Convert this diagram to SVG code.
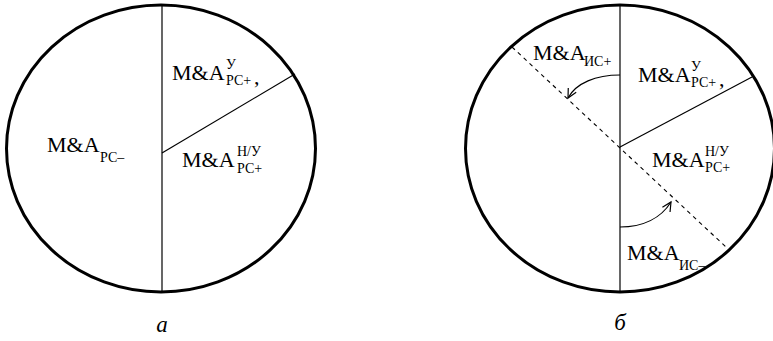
<svg xmlns="http://www.w3.org/2000/svg" width="773" height="341" viewBox="0 0 773 341">
<defs>
<style>
.rim{fill:none;stroke:#000;stroke-width:3}
.ln{fill:none;stroke:#000;stroke-width:1.2}
.dash{fill:none;stroke:#000;stroke-width:1.1;stroke-dasharray:4 4}
.t{font-family:"Liberation Serif","Times New Roman",serif;font-size:22px;fill:#000}
.s{font-size:14px}
.cap{font-family:"Liberation Serif","Times New Roman",serif;font-size:23px;font-style:italic;fill:#000}
</style>
<marker id="ah" markerWidth="12" markerHeight="12" refX="0" refY="0" viewBox="-10 -6 12 12" orient="auto" markerUnits="userSpaceOnUse">
<path d="M-9,-4.5 L0,0 L-9,4.5" fill="none" stroke="#000" stroke-width="1.2"/>
</marker>
</defs>
<rect width="773" height="341" fill="#fff"/>
<g id="diagram-a">
<ellipse class="rim" cx="161" cy="148.5" rx="154.5" ry="143.5"/>
<line class="ln" x1="162" y1="5" x2="162" y2="292"/>
<line class="ln" x1="162" y1="153" x2="295" y2="74"/>
</g>
<g id="label-a-rc-minus"><text class="t" x="47" y="152">M&amp;A<tspan class="s" x="100" y="162">РС–</tspan></text></g>
<g id="label-a-rc-plus-u"><text class="t" x="172" y="80">M&amp;A<tspan class="s" x="226" y="69">У</tspan><tspan class="s" x="226" y="85">РС+</tspan><tspan x="254" y="84">,</tspan></text></g>
<g id="label-a-rc-plus-nu"><text class="t" x="182" y="167">M&amp;A<tspan class="s" x="237" y="156">Н/У</tspan><tspan class="s" x="237" y="173">РС+</tspan></text></g>
<g id="caption-a"><text class="cap" x="162" y="332" text-anchor="middle">а</text></g>
<g id="diagram-b">
<ellipse class="rim" cx="620" cy="148.5" rx="154.5" ry="143.5"/>
<line class="ln" x1="620" y1="5" x2="620" y2="292"/>
<line class="ln" x1="620" y1="147" x2="752" y2="77"/>
<line class="dash" x1="512" y1="47" x2="727" y2="248"/>
</g>
<g id="connectors">
<path class="ln" d="M620,75 C596,75 576,83 568,98" marker-end="url(#ah)"/>
<path class="ln" d="M620,227 C643,227 661,218 671,202" marker-end="url(#ah)"/>
</g>
<g id="label-b-ic-plus"><text class="t" x="533" y="60">M&amp;A<tspan class="s" x="584" y="66">ИС+</tspan></text></g>
<g id="label-b-rc-plus-u"><text class="t" x="638" y="82">M&amp;A<tspan class="s" x="691" y="71">У</tspan><tspan class="s" x="691" y="87">РС+</tspan><tspan x="719" y="86">,</tspan></text></g>
<g id="label-b-rc-plus-nu"><text class="t" x="652" y="167">M&amp;A<tspan class="s" x="705" y="156">Н/У</tspan><tspan class="s" x="705" y="172">РС+</tspan></text></g>
<g id="label-b-ic-minus"><text class="t" x="627" y="260">M&amp;A<tspan class="s" x="679" y="270">ИС–</tspan></text></g>
<g id="caption-b"><text class="cap" x="620" y="330" text-anchor="middle">б</text></g>
</svg>
